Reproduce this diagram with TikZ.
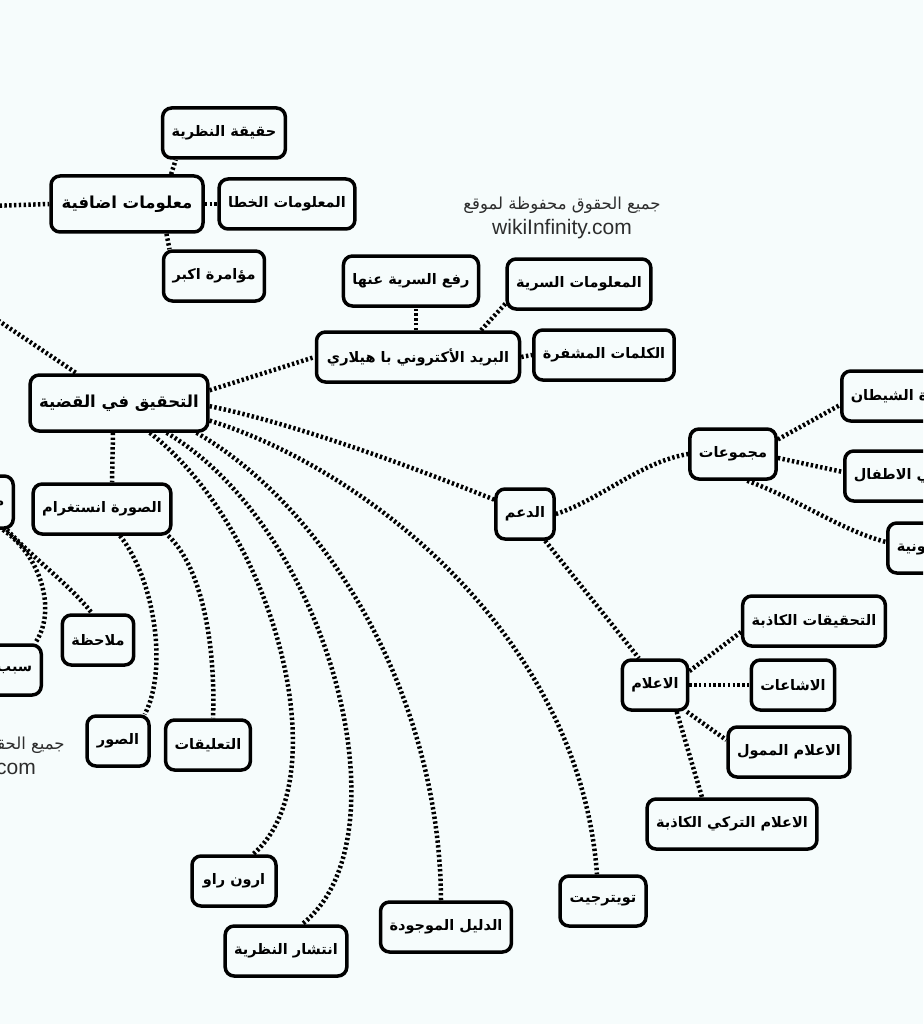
\documentclass[tikz,border=0pt]{standalone}
\usepackage{fontspec}
\setmainfont{Liberation Sans}
\newfontfamily\arabicfont[Script=Arabic]{DejaVu Sans}
\TeXXeTstate=1
\definecolor{paper}{RGB}{246,252,252}
\definecolor{stampgray}{RGB}{45,45,45}

\begin{document}
\begin{tikzpicture}[
  x=1pt, y=-1pt,
  box/.style={draw, line width=3.5pt, rounded corners=9pt, minimum height=50pt, inner xsep=9pt,
    font=\arabicfont\bfseries\fontsize{14.5}{17}\selectfont,
    execute at begin node=\beginR, execute at end node=\endR},
  big/.style={box, minimum height=56pt, font=\arabicfont\bfseries\fontsize{16.5}{20}\selectfont},
  link/.style={line width=4.5pt, dash pattern=on 2.4pt off 2.4pt},
  stamp/.style={align=center, text=stampgray, font=\fontsize{21}{25}\selectfont}
]
\useasboundingbox (0,0) rectangle (923,1024);
\clip (0,0) rectangle (923,1024);
\fill[paper] (0,0) rectangle (923,1024);

% upper branch
\node[big, minimum width=152pt] (extra) at (127,204) {معلومات اضافية};
\node[box, minimum width=113pt] (truth) at (224,133) {حقيقة النظرية};
\node[box, minimum width=126pt] (wrong) at (287,204) {المعلومات الخطا};
\node[box, minimum width=99pt] (plot) at (214,276) {مؤامرة اكبر};

% watermarks
\node[stamp] (mark1) at (562,218) {{\arabicfont\fontsize{16.5}{20}\selectfont\beginR جميع الحقوق محفوظة لموقع\endR}\\wikiInfinity.com};
\node[stamp] (mark2) at (-34,758) {{\arabicfont\fontsize{16.5}{20}\selectfont\beginR جميع الحقوق محفوظة لموقع\endR}\\wikiInfinity.com};

% mail branch
\node[box, minimum width=134pt] (declass) at (411,281) {رفع السرية عنها};
\node[box, minimum width=135pt] (secret) at (579,284) {المعلومات السرية};
\node[box, minimum width=203pt] (mail) at (418,357) {البريد الأكتروني با هيلاري};
\node[box, minimum width=124pt] (cipher) at (604,355) {الكلمات المشفرة};

% centre
\node[big, minimum width=172pt] (main) at (119,403) {التحقيق في القضية};

% left branch
\node[box, minimum width=136pt] (insta) at (102,509) {الصورة انستغرام};
\node[box, minimum height=52pt, anchor=east] (src) at (15,502) {مصادر};
\node[box, minimum width=67pt] (remark) at (98,640) {ملاحظة};
\node[box, anchor=east] (cause) at (43,670) {سبب};
\node[box, minimum width=62pt] (photos) at (118,741) {الصور};
\node[box, minimum width=83pt] (comments) at (208,745) {التعليقات};

% lower branch
\node[box, minimum width=84pt] (aaron) at (234,881) {ارون راو};
\node[box, minimum width=121pt] (spread) at (286,951) {انتشار النظرية};
\node[box, minimum width=121pt] (evidence) at (446,927) {الدليل الموجودة};
\node[box, minimum width=86pt] (twitter) at (603,901) {تويترجيت};

% support branch
\node[box, minimum width=52pt] (support) at (525,514) {الدعم};
\node[box, minimum width=85pt] (groups) at (733,454) {مجموعات};
\node[box, anchor=west] (devil) at (840,396) {عبادة الشيطان};
\node[box, anchor=west] (pedo) at (843,476) {مشتهي الاطفال};
\node[box, anchor=west] (mason) at (886,548) {الماسونية};
\node[box, minimum width=62pt] (media) at (655,685) {الاعلام};
\node[box, minimum width=131pt] (fakeinv) at (814,621) {التحقيقات الكاذبة};
\node[box, minimum width=77pt] (rumors) at (793,685) {الاشاعات};
\node[box, minimum width=113pt] (funded) at (789,752) {الاعلام الممول};
\node[box, minimum width=164pt] (turkish) at (732,824) {الاعلام التركي الكاذبة};

\coordinate (offA) at (-10,206);
\coordinate (offB) at (-10,315);

% links
\draw[link] (offA) -- (extra.west);
\draw[link] (extra.34) -- (truth.-151);
\draw[link] (extra.east) -- (wrong.west);
\draw[link] (extra.-37) -- (plot.149);

\draw[link] (offB) -- (main.145);
\draw[link] (main.8) -- (mail.west);
\draw[link] ([xshift=-2pt]mail.north) -- ([xshift=5pt]declass.south);
\draw[link] (mail.23) -- (secret.-165);
\draw[link] (mail.east) -- (cipher.west);

\draw[link] ([xshift=-6pt]main.south) -- ([xshift=10pt]insta.north);
\draw[link] ([xshift=18pt]insta.south) .. controls (155,580) and (168,670) .. (photos.45);
\draw[link] (insta.-22) .. controls (200,565) and (216,640) .. ([xshift=5pt]comments.north);
\draw[link] ([xshift=-8pt]src.south east) .. controls (35,560) and (70,585) .. ([xshift=-6pt]remark.north);
\draw[link] ([xshift=-12pt]src.south east) .. controls (40,555) and (58,610) .. ([xshift=-8pt]cause.north east);

\draw[link] (main.-44) .. controls (275,530) and (340,780) .. ([xshift=19pt]aaron.north);
\draw[link] (main.-32) .. controls (330,530) and (410,840) .. ([xshift=16pt]spread.north);
\draw[link] (main.-21) .. controls (330,510) and (440,700) .. ([xshift=-5pt]evidence.north);
\draw[link] (main.-11) .. controls (370,470) and (580,640) .. ([xshift=-6pt]twitter.north);

\draw[link] (main.-2) .. controls (300,425) and (420,470) .. (support.155);
\draw[link] (support.east) .. controls (600,500) and (640,462) .. (groups.west);
\draw[link] (groups.18) -- ([yshift=-9pt]devil.west);
\draw[link] (groups.-5) -- ([yshift=4pt]pedo.west);
\draw[link] (groups.-62) .. controls (800,500) and (840,530) .. ([yshift=6pt]mason.west);

\draw[link] (support.-53) -- (media.121);
\draw[link] (media.22) -- ([yshift=-11pt]fakeinv.west);
\draw[link] (media.east) -- (rumors.west);
\draw[link] (media.-40) -- ([yshift=12pt]funded.west);
\draw[link] (media.-51) -- ([xshift=-30pt]turkish.north);
\end{tikzpicture}
\end{document}
